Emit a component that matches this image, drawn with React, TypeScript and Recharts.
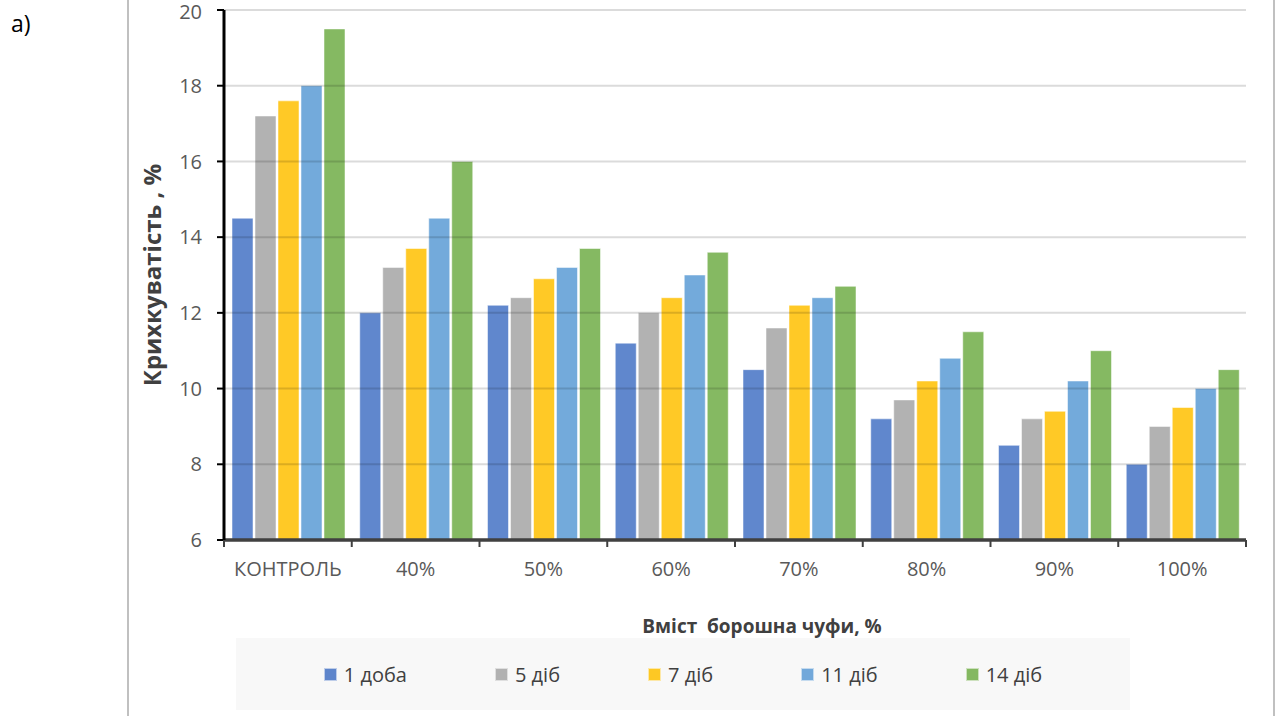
import React from "react";
import { BarChart, Bar, XAxis, YAxis, ReferenceLine, Legend } from "recharts";

const categories = ["КОНТРОЛЬ", "40%", "50%", "60%", "70%", "80%", "90%", "100%"];

const day1 = [14.5, 12.0, 12.2, 11.2, 10.5, 9.2, 8.5, 8.0];
const day5 = [17.2, 13.2, 12.4, 12.0, 11.6, 9.7, 9.2, 9.0];
const day7 = [17.6, 13.7, 12.9, 12.4, 12.2, 10.2, 9.4, 9.5];
const day11 = [18.0, 14.5, 13.2, 13.0, 12.4, 10.8, 10.2, 10.0];
const day14 = [19.5, 16.0, 13.7, 13.6, 12.7, 11.5, 11.0, 10.5];

const seriesNames = ["1 доба", "5 діб", "7 діб", "11 діб", "14 діб"];
const seriesColors = ["#4472C4", "#A5A5A5", "#FFC000", "#5B9BD5", "#70AD47"];

const yMin = 6;
const yMax = 20;
const yTicks = [6, 8, 10, 12, 14, 16, 18, 20];
const gridValues = [8, 10, 12, 14, 16, 18, 20];

const data = categories.map((c, i) => ({
  name: c,
  s0: day1[i],
  s1: day5[i],
  s2: day7[i],
  s3: day11[i],
  s4: day14[i],
}));

const FONT = "'Open Sans', 'Noto Sans', sans-serif";

// category label plus tick marks on the boundaries between categories
function CategoryTick(props: any) {
  const { x, y, payload, index, visibleTicksCount, width } = props;
  const step = (Number(width) || 1022) / (visibleTicksCount || 8);
  const left = x - step / 2;
  const right = x + step / 2;
  return (
    <g>
      <line x1={left} x2={left} y1={y} y2={y + 7} stroke="#404040" strokeWidth={2} />
      {index === visibleTicksCount - 1 && (
        <line x1={right} x2={right} y1={y} y2={y + 7} stroke="#404040" strokeWidth={2} />
      )}
      <text x={x} y={y + 22} dy="0.71em" textAnchor="middle" fill="#595959" fontSize={20} fontFamily={FONT}>
        {payload.value}
      </text>
    </g>
  );
}

// legend keeps the series order instead of the default sorting
function LegendBox() {
  return (
    <div
      style={{
        width: "100%",
        height: "100%",
        display: "flex",
        alignItems: "center",
        justifyContent: "center",
        gap: 88,
        fontFamily: FONT,
        fontSize: 20,
        color: "#404040",
      }}
    >
      {seriesNames.map((label, i) => (
        <div key={label} style={{ display: "flex", alignItems: "center", gap: 7 }}>
          <span
            style={{
              width: 11,
              height: 11,
              background: seriesColors[i],
              opacity: 0.85,
              border: "1px solid rgba(255,255,255,0.6)",
              display: "inline-block",
            }}
          />
          <span>{label}</span>
        </div>
      ))}
    </div>
  );
}

export default function App() {
  return (
    <div
      style={{
        position: "absolute",
        left: 0,
        top: 0,
        width: 1278,
        height: 716,
        background: "#fff",
        fontFamily: FONT,
        overflow: "hidden",
      }}
    >
      <div style={{ position: "absolute", left: 11, top: 9, fontSize: 23, lineHeight: "28px", color: "#000" }}>
        a)
      </div>
      <div style={{ position: "absolute", left: 127, top: 0, width: 2, height: 716, background: "#C0C0C0" }} />
      <div style={{ position: "absolute", left: 1273, top: 0, width: 2, height: 716, background: "#C0C0C0" }} />

      <div style={{ position: "absolute", left: 0, top: 0 }}>
        <BarChart
          width={1278}
          height={716}
          data={data}
          margin={{ top: 10, right: 32, left: 82, bottom: 76 }}
          barCategoryGap={8}
          barGap={2}
        >
          <XAxis
            dataKey="name"
            height={100}
            axisLine={{ stroke: "#404040", strokeWidth: 3 }}
            tickLine={false}
            tickSize={0}
            tickMargin={0}
            interval={0}
            tick={<CategoryTick />}
            label={{
              value: "Вміст\u00A0 борошна чуфи, %",
              position: "insideBottom",
              offset: 7,
              dx: 27,
              style: { fill: "#404040", fontSize: 19, fontWeight: 700, fontFamily: FONT },
            }}
          />
          <YAxis
            domain={[yMin, yMax]}
            ticks={yTicks}
            allowDataOverflow
            width={142}
            tickSize={7}
            tickMargin={15}
            tick={{ fill: "#595959", fontSize: 20, fontFamily: FONT }}
            tickLine={{ stroke: "#000", strokeWidth: 2 }}
            axisLine={{ stroke: "#000", strokeWidth: 3 }}
            label={{
              value: "Крихкуватість , %",
              angle: -90,
              position: "center",
              dx: -1,
              style: { fill: "#404040", fontSize: 24, fontWeight: 700, fontFamily: FONT, textAnchor: "middle" },
            }}
          />
          {seriesNames.map((n, i) => (
            <Bar
              key={n}
              dataKey={`s${i}`}
              name={n}
              fill={seriesColors[i]}
              fillOpacity={0.85}
              stroke="#fff"
              strokeOpacity={0.5}
              strokeWidth={1}
              isAnimationActive={false}
            />
          ))}
          {gridValues.map((v) => (
            <ReferenceLine key={v} y={v} stroke="#000" strokeOpacity={0.14} strokeWidth={2} />
          ))}
          {/* baseline redrawn above the bars */}
          <ReferenceLine y={yMin} stroke="#404040" strokeWidth={3} />
          <Legend
            layout="horizontal"
            verticalAlign="middle"
            align="center"
            content={<LegendBox />}
            wrapperStyle={{ left: 236, top: 638, width: 894, height: 72, background: "#F8F8F8" }}
          />
        </BarChart>
      </div>
    </div>
  );
}
